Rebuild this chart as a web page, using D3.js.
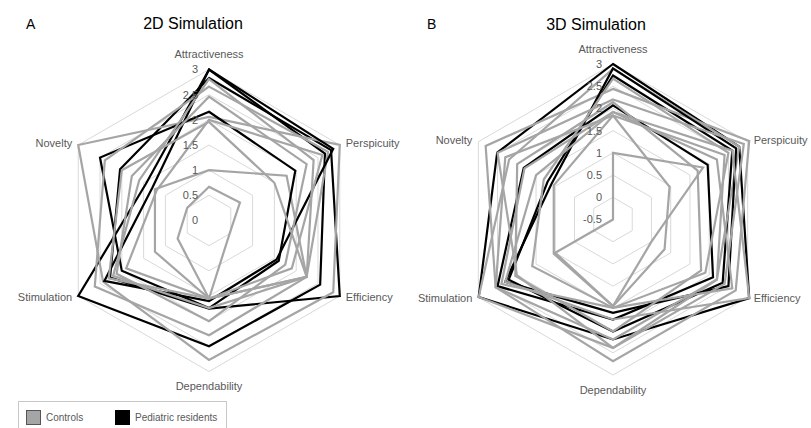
<!DOCTYPE html>
<html>
<head>
<meta charset="utf-8">
<script src="https://d3js.org/d3.v7.min.js"></script>
<style>
  body { margin: 0; background: white; }
  svg text { font-family: "Liberation Sans", Arial, sans-serif; }
</style>
</head>
<body>
<div id="viz_area"></div>
<script>
var width = 811
var height = 428

// UEQ scales, clockwise from the top
var axes = ["Attractiveness", "Perspicuity", "Efficiency", "Dependability", "Stimulation", "Novelty"]

var ticks2D = [0, 0.5, 1, 1.5, 2, 2.5, 3]
var ticks3D = [-0.5, 0, 0.5, 1, 1.5, 2, 2.5, 3]

// each row: one participant, values in the order of `axes`
var controls2D = [
  [0.67, 0.71, 0.48, 1.55, 0.72, 0.5],
  [1.0, 1.78, 2.24, 1.55, 1.24, 1.24],
  [2.06, 3.0, 2.85, 2.77, 2.43, 3.0],
  [2.66, 2.73, 2.24, 2.28, 2.62, 2.39],
  [2.46, 2.24, 1.75, 2.0, 2.12, 1.77],
  [1.96, 1.5, 2.24, 1.55, 2.3, 2.0],
  [2.0, 2.6, 1.9, 1.55, 1.9, 1.2],
  [2.81, 2.4, 2.24, 1.74, 2.2, 1.6]
]
var residents2D = [
  [3.0, 2.66, 2.55, 2.5, 3.0, 1.45],
  [2.83, 2.8, 3.0, 1.75, 2.27, 2.04],
  [2.16, 1.98, 1.6, 1.74, 2.0, 2.5],
  [3.0, 2.85, 1.55, 1.6, 2.4, 1.3]
]

var controls3D = [
  [1.0, 1.84, 0.5, 1.45, 1.0, -0.5],
  [1.84, 0.97, 0.84, 1.45, 1.04, 1.04],
  [2.44, 3.04, 2.69, 2.69, 2.55, 2.81],
  [2.89, 2.78, 2.2, 2.39, 2.99, 2.2],
  [2.14, 1.7, 1.79, 2.02, 2.04, 1.99],
  [1.92, 2.6, 3.04, 1.75, 2.3, 1.5],
  [1.84, 2.4, 2.2, 2.2, 2.55, 2.3],
  [2.67, 2.5, 1.9, 1.49, 1.6, 1.3],
  [2.2, 2.9, 2.4, 2.39, 2.0, 2.5],
  [1.92, 2.2, 2.6, 1.49, 2.4, 1.8]
]
var residents3D = [
  [3.0, 2.78, 3.04, 2.2, 2.99, 2.51],
  [2.74, 2.6, 2.35, 2.02, 2.21, 1.2],
  [2.07, 1.96, 2.1, 1.75, 2.5, 1.82],
  [2.9, 2.7, 2.5, 1.6, 2.3, 1.1]
]

var grey = "#a5a5a5"
var labelColor = "#595959"

var svg = d3.select("#viz_area")
  .append("svg")
  .attr("width", width)
  .attr("height", height)
  .style("background-color", "white");

function angleOf(i) {
  return i * 2 * Math.PI / axes.length
}

function drawRadar(svg, cfg) {
  var g = svg.append("g")
    .attr("transform", `translate(${cfg.cx},${cfg.cy})`)

  var scR = d3.scaleLinear()
    .domain([cfg.ticks[0], cfg.ticks[cfg.ticks.length - 1]])
    .range([0, cfg.R])

  // grid hexagons
  var ring = d3.lineRadial()
    .angle((d, i) => angleOf(i))
    .radius(d => scR(d))
    .curve(d3.curveLinearClosed)

  g.append("g")
    .selectAll("path")
    .data(cfg.ticks.slice(1))
    .enter().append("path")
    .attr("d", t => ring(axes.map(() => t)))
    .attr("fill", "none")
    .attr("stroke", "#d9d9d9")
    .attr("stroke-width", 1)

  // series
  var shape = d3.lineRadial()
    .angle((d, i) => angleOf(i))
    .radius(d => scR(d))
    .curve(d3.curveLinearClosed)

  var rows = []
  var n = Math.max(cfg.controls.length, cfg.residents.length)
  for (let i = 0; i < n; i++) {
    if (i < cfg.controls.length) rows.push({ v: cfg.controls[i], c: grey })
    if (i < cfg.residents.length) rows.push({ v: cfg.residents[i], c: "#000" })
  }

  g.append("g")
    .selectAll("path")
    .data(rows)
    .enter().append("path")
    .attr("d", d => shape(d.v))
    .attr("fill", "none")
    .attr("stroke", d => d.c)
    .attr("stroke-width", 2.2)
    .attr("stroke-linejoin", "miter")

  // tick labels along the top axis
  g.append("g")
    .selectAll("text")
    .data(cfg.ticks)
    .enter().append("text")
    .attr("x", -11)
    .attr("y", t => -scR(t))
    .attr("dy", "0.35em")
    .attr("text-anchor", "end")
    .style("font-size", "11px")
    .attr("fill", labelColor)
    .text(t => String(t))

  // axis names
  var pad = cfg.pad
  g.append("g")
    .selectAll("text")
    .data(axes)
    .enter().append("text")
    .attr("x", (d, i) => {
      var a = angleOf(i)
      var x = Math.sin(a) * cfg.R
      if (Math.abs(x) < 1) return 0
      return x + (x > 0 ? 6 : -6)
    })
    .attr("y", (d, i) => {
      var a = angleOf(i)
      var y = -Math.cos(a) * cfg.R
      if (i == 0) return y - pad
      if (i == 3) return y + pad
      return y + (y < 0 ? -2 : 1)
    })
    .attr("dy", "0.35em")
    .attr("text-anchor", (d, i) => {
      var x = Math.sin(angleOf(i))
      if (Math.abs(x) < 0.01) return "middle"
      return x > 0 ? "start" : "end"
    })
    .style("font-size", "11px")
    .attr("fill", labelColor)
    .text(d => d)

  // panel letter and title
  svg.append("text")
    .attr("x", cfg.letterX)
    .attr("y", 29)
    .style("font-size", "14px")
    .attr("fill", "#000")
    .text(cfg.letter)

  svg.append("text")
    .attr("x", cfg.titleX)
    .attr("y", cfg.titleY)
    .attr("text-anchor", "middle")
    .style("font-size", "16px")
    .attr("fill", "#000")
    .text(cfg.title)
}

drawRadar(svg, {
  cx: 209, cy: 220.5, R: 151, pad: 15,
  ticks: ticks2D, controls: controls2D, residents: residents2D,
  letter: "A", letterX: 26, title: "2D Simulation", titleX: 193, titleY: 29
})

drawRadar(svg, {
  cx: 613, cy: 219.5, R: 155.5, pad: 15,
  ticks: ticks3D, controls: controls3D, residents: residents3D,
  letter: "B", letterX: 427, title: "3D Simulation", titleX: 596, titleY: 30
})

// legend
var legend = svg.append("g").attr("id", "legend")
legend.append("rect")
  .attr("x", 18.5).attr("y", 401.5)
  .attr("width", 208).attr("height", 40)
  .attr("fill", "white")
  .attr("stroke", "#c8c8c8")

var keys = [
  { name: "Controls", fill: grey, stroke: "#555", x: 26 },
  { name: "Pediatric residents", fill: "#000", stroke: "#000", x: 115 }
]
legend.selectAll("rect.key")
  .data(keys)
  .enter().append("rect")
  .attr("class", "key")
  .attr("x", d => d.x + 0.5)
  .attr("y", 410.5)
  .attr("width", 14)
  .attr("height", 14)
  .attr("fill", d => d.fill)
  .attr("stroke", d => d.stroke)

legend.selectAll("text")
  .data(keys)
  .enter().append("text")
  .attr("x", d => d.x + 20)
  .attr("y", 421)
  .style("font-size", "10px")
  .attr("fill", labelColor)
  .text(d => d.name)
</script>
</body>
</html>
